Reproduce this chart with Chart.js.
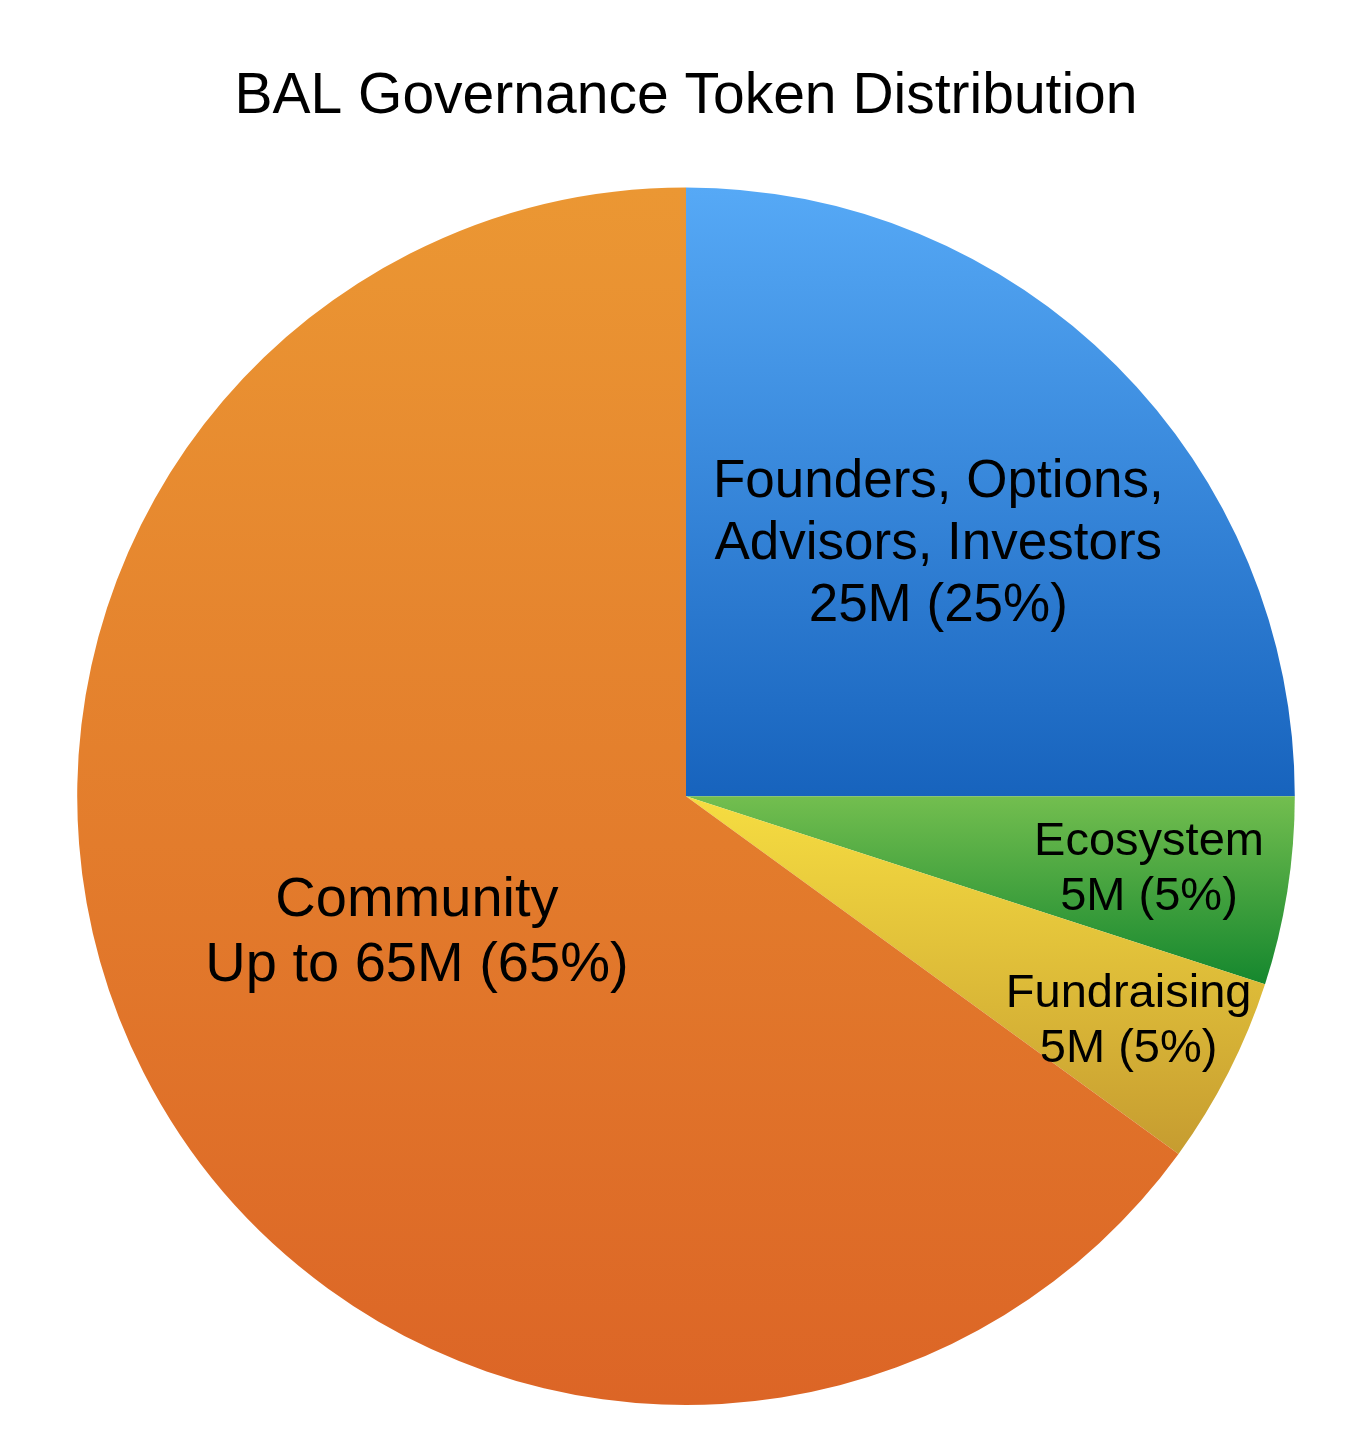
<!DOCTYPE html>
<html>
<head>
<meta charset="utf-8">
<script src="https://cdn.jsdelivr.net/npm/chart.js@4"></script>
<style>
  html, body { margin: 0; padding: 0; background: #fff; }
  #wrap { width: 1360px; height: 1434px; }
</style>
</head>
<body>
<div id="wrap"><canvas id="chart"></canvas></div>
<script>
const categories = ['Founders, Options, Advisors, Investors', 'Ecosystem', 'Fundraising', 'Community'];
const tokenValues = [25, 5, 5, 65];
const sliceLabels = [
  ['Founders, Options,', 'Advisors, Investors', '25M (25%)'],
  ['Ecosystem', '5M (5%)'],
  ['Fundraising', '5M (5%)'],
  ['Community', 'Up to 65M (65%)'],
];

// gradient top/bottom colours for each slice
const topColors = ['#56a9f6', '#73be4f', '#f6dd41', '#eb9733'];
const bottomColors = ['#1763bd', '#15872e', '#c69c30', '#dc6526'];
// where each label sits along the slice middle, as part of the radius
const labelRadius = [0.586, 0.77, 0.816, 0.496];
const labelFontSize = [53, 47, 47, 56];

const total = tokenValues.reduce((a, b) => a + b, 0);

function sliceGradient(context) {
  const chart = context.chart;
  const area = chart.chartArea;
  if (!area) return topColors[context.dataIndex];
  const i = context.dataIndex;
  const cy = (area.top + area.bottom) / 2;
  const r = Math.min(area.right - area.left, area.bottom - area.top) / 2;
  let before = 0;
  for (let k = 0; k < i; k++) before += tokenValues[k];
  const a0 = -Math.PI / 2 + (before / total) * 2 * Math.PI;
  const a1 = a0 + (tokenValues[i] / total) * 2 * Math.PI;
  const ys = [0, Math.sin(a0), Math.sin(a1)];
  // include the top / bottom of the circle if the slice passes them
  [-Math.PI / 2, Math.PI / 2, 1.5 * Math.PI].forEach(a => {
    if (a > a0 && a < a1) ys.push(Math.sin(a));
  });
  const y0 = cy + r * Math.min(...ys);
  const y1 = cy + r * Math.max(...ys);
  const g = chart.ctx.createLinearGradient(0, y0, 0, y1);
  g.addColorStop(0, topColors[i]);
  g.addColorStop(1, bottomColors[i]);
  return g;
}

const sliceText = {
  id: 'sliceText',
  afterDatasetsDraw(chart) {
    const ctx = chart.ctx;
    const meta = chart.getDatasetMeta(0);
    ctx.save();
    ctx.fillStyle = '#000';
    ctx.textAlign = 'center';
    ctx.textBaseline = 'middle';
    meta.data.forEach((arc, i) => {
      const mid = (arc.startAngle + arc.endAngle) / 2;
      const dist = arc.outerRadius * labelRadius[i];
      const x = arc.x + Math.cos(mid) * dist;
      const y = arc.y + Math.sin(mid) * dist;
      const size = labelFontSize[i];
      const lh = size * 1.17;
      ctx.font = size + 'px "Liberation Sans", Arial, sans-serif';
      const lines = sliceLabels[i];
      lines.forEach((line, j) => {
        ctx.fillText(line, x, y + (j - (lines.length - 1) / 2) * lh);
      });
    });
    ctx.restore();
  }
};

new Chart(document.getElementById('chart'), {
  type: 'pie',
  data: {
    labels: categories,
    datasets: [{
      data: tokenValues,
      backgroundColor: sliceGradient,
      borderWidth: 0,
    }],
  },
  options: {
    responsive: true,
    maintainAspectRatio: false,
    animation: false,
    layout: { padding: { left: 12, right: 0, top: 0, bottom: 29 } },
    plugins: {
      legend: { display: false },
      tooltip: { enabled: false },
      title: {
        display: true,
        text: 'BAL Governance Token Distribution',
        color: '#000',
        font: { family: '"Liberation Sans", Arial, sans-serif', size: 57, weight: 'normal', lineHeight: 1.2 },
        padding: { top: 63, bottom: 56 },
      },
    },
  },
  plugins: [sliceText],
});
</script>
</body>
</html>
